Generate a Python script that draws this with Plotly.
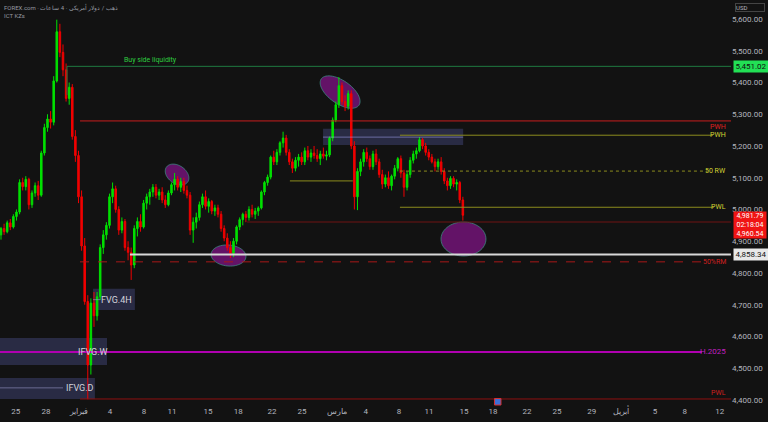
''' Gold 4H chart with ICT levels (dark theme) '''
import numpy as np
import plotly.graph_objects as go

# candle data (bar index on x, price in USD)
opens = [4920, 4940, 4930, 4958, 4945, 4978, 4992, 5085, 5072, 5095,
         5015, 5052, 5075, 5045, 5178, 5258, 5285, 5275, 5405, 5560,
         5495, 5440, 5350, 5385, 5230, 5170, 5040, 4885, 4710, 4510,
         4705, 4665, 4725, 4880, 4920, 4950, 5040, 5065, 5000, 4935,
         4962, 4880, 4865, 4825, 4940, 4962, 4945, 5020, 5040, 5055,
         5070, 5045, 5055, 5030, 5015, 5052, 5078, 5095, 5070, 5088,
         5060, 5045, 4935, 4960, 4975, 5015, 5040, 5010, 5025, 4995,
         5005, 4985, 4940, 4910, 4880, 4862, 4900, 4945, 4968, 4985,
         4975, 5000, 4985, 4995, 5005, 5055, 5085, 5102, 5165, 5150,
         5180, 5210, 5225, 5180, 5150, 5130, 5155, 5165, 5150, 5185,
         5165, 5178, 5170, 5160, 5175, 5168, 5172, 5225, 5282, 5330,
         5390, 5340, 5325, 5365, 5200, 5040, 5120, 5150, 5180, 5160,
         5135, 5175, 5150, 5110, 5080, 5100, 5075, 5105, 5130, 5160,
         5115, 5070, 5110, 5155, 5175, 5185, 5220, 5200, 5180, 5165,
         5150, 5135, 5150, 5120, 5090, 5075, 5098, 5080, 5085, 5030]
highs = [4945, 4955, 4965, 4970, 4985, 5000, 5095, 5100, 5105, 5100,
         5060, 5085, 5090, 5185, 5270, 5300, 5310, 5420, 5598, 5585,
         5520, 5460, 5400, 5395, 5250, 5185, 5060, 4910, 4730, 4720,
         4740, 4740, 4890, 4935, 4960, 5050, 5085, 5075, 5010, 4975,
         4970, 4900, 4880, 4950, 4975, 4985, 5030, 5050, 5065, 5080,
         5080, 5065, 5070, 5045, 5060, 5085, 5115, 5105, 5100, 5100,
         5075, 5055, 4975, 4990, 5025, 5050, 5060, 5035, 5030, 5015,
         5015, 4995, 4950, 4925, 4900, 4910, 4950, 4975, 4990, 4995,
         5010, 5015, 5005, 5010, 5060, 5090, 5110, 5170, 5185, 5190,
         5215, 5245, 5235, 5190, 5160, 5165, 5175, 5180, 5195, 5200,
         5190, 5200, 5190, 5185, 5195, 5185, 5230, 5290, 5340, 5417,
         5400, 5360, 5375, 5375, 5215, 5130, 5160, 5190, 5195, 5170,
         5185, 5190, 5160, 5125, 5110, 5120, 5110, 5140, 5165, 5170,
         5125, 5120, 5165, 5185, 5195, 5228, 5225, 5210, 5190, 5175,
         5160, 5160, 5165, 5130, 5100, 5105, 5105, 5095, 5090, 5040]
lows = [4905, 4920, 4925, 4935, 4940, 4965, 4985, 5060, 5060, 5000,
        5005, 5040, 5030, 5040, 5170, 5245, 5255, 5265, 5400, 5480,
        5420, 5340, 5330, 5220, 5150, 5020, 4870, 4700, 4402, 4480,
        4630, 4650, 4715, 4860, 4905, 4940, 5020, 4990, 4920, 4925,
        4870, 4840, 4778, 4815, 4915, 4930, 4940, 5000, 5015, 5040,
        5035, 5030, 5020, 5005, 5010, 5045, 5060, 5060, 5055, 5050,
        5035, 4920, 4895, 4940, 4965, 5005, 5000, 4990, 4985, 4980,
        4975, 4930, 4900, 4870, 4847, 4850, 4890, 4935, 4950, 4960,
        4965, 4975, 4970, 4980, 5000, 5045, 5075, 5095, 5140, 5140,
        5170, 5195, 5170, 5140, 5115, 5120, 5135, 5140, 5140, 5155,
        5150, 5160, 5150, 5140, 5160, 5155, 5165, 5215, 5275, 5320,
        5330, 5310, 5315, 5190, 5000, 4998, 5105, 5135, 5150, 5125,
        5125, 5140, 5100, 5065, 5070, 5065, 5060, 5095, 5120, 5100,
        5040, 5060, 5100, 5145, 5160, 5180, 5190, 5170, 5155, 5145,
        5120, 5125, 5110, 5080, 5060, 5065, 5070, 5060, 5020, 4965]
closes = [4940, 4930, 4958, 4945, 4978, 4992, 5085, 5072, 5095, 5015,
          5052, 5075, 5045, 5178, 5258, 5285, 5275, 5405, 5560, 5495,
          5440, 5350, 5385, 5230, 5170, 5040, 4885, 4710, 4510, 4705,
          4665, 4725, 4880, 4920, 4950, 5040, 5065, 5000, 4935, 4962,
          4880, 4865, 4825, 4940, 4962, 4945, 5020, 5040, 5055, 5070,
          5045, 5055, 5030, 5015, 5052, 5078, 5095, 5070, 5088, 5060,
          5045, 4935, 4960, 4975, 5015, 5040, 5010, 5025, 4995, 5005,
          4985, 4940, 4910, 4880, 4862, 4900, 4945, 4968, 4985, 4975,
          5000, 4985, 4995, 5005, 5055, 5085, 5102, 5165, 5150, 5180,
          5210, 5225, 5180, 5150, 5130, 5155, 5165, 5150, 5185, 5165,
          5178, 5170, 5160, 5175, 5168, 5172, 5225, 5282, 5330, 5390,
          5340, 5325, 5365, 5200, 5040, 5120, 5150, 5180, 5160, 5135,
          5175, 5150, 5110, 5080, 5100, 5075, 5105, 5130, 5160, 5115,
          5070, 5110, 5155, 5175, 5185, 5220, 5200, 5180, 5165, 5150,
          5135, 5150, 5120, 5090, 5075, 5098, 5080, 5085, 5030, 4981.79]
bars = list(range(len(closes)))

# x axis labels (bar position, text)
tick_pos = [4.8, 14.5, 25.2, 35.2, 46.1, 55.2, 66.8, 76.5, 87.4, 97.1, 108.4, 117.7,
            128.4, 138.1, 149.4, 158.7, 169.7, 179.4, 190.6, 200.0, 211.0, 220.6, 231.9]
tick_text = ['25', '28', 'فبراير', '4', '8', '11', '15', '18', '22', '25', 'مارس', '4',
             '8', '11', '15', '18', '22', '25', '29', 'أبريل', '5', '8', '12']
price_ticks = [4400, 4500, 4600, 4700, 4800, 4900, 5000, 5100, 5200, 5300, 5400, 5500, 5600]

# key levels
buy_side = 5451.02
pwh_red = 5279
pwh = 5234
rw50 = 5121
pwl = 5007
short_olive = 5090
bid_line = 4960.54
level_white = 4858.34
rm50 = 4835
h2025 = 4551
pwl_low = 4403
last_price = closes[-1]

BG = '#121212'
UP = '#00e000'
DN = '#f00000'
AXIS_TXT = '#b2b5be'
OLIVE = '#8c8c1e'
YEL = '#d2d232'
FONT = 'Roboto'

X0, X1 = -0.32, 235.5
Y0, Y1 = 4384, 5660
PX_X = 731 / (X1 - X0)
PX_Y = 405 / (Y1 - Y0)

fig = go.Figure()

fig.add_trace(
    go.Candlestick(
        x = bars,
        open = opens,
        high = highs,
        low = lows,
        close = closes,
        increasing = dict(line=dict(color=UP, width=1), fillcolor=UP),
        decreasing = dict(line=dict(color=DN, width=1), fillcolor=DN),
        whiskerwidth = 0,
        showlegend = False,
        hoverinfo = 'skip'
    )
)

shapes = []

def hline(y, x0, x1, color, width=1, dash='solid'):
    shapes.append(dict(type='line', xref='x', yref='y', x0=x0, x1=x1, y0=y, y1=y,
                       line=dict(color=color, width=width, dash=dash)))

def box(x0, x1, y0, y1, color):
    shapes.append(dict(type='rect', xref='x', yref='y', x0=x0, x1=x1, y0=y0, y1=y1,
                       fillcolor=color, line=dict(width=0), layer='below'))

def ellipse(cx, cy, a, b, ang):
    t = np.linspace(0, 2 * np.pi, 64)
    th = np.radians(ang)
    dx = a * np.cos(t) * np.cos(th) - b * np.sin(t) * np.sin(th)
    dy = a * np.cos(t) * np.sin(th) + b * np.sin(t) * np.cos(th)
    xs = cx + dx / PX_X
    ys = cy - dy / PX_Y
    path = 'M ' + ' L '.join(f'{x:.3f},{y:.2f}' for x, y in zip(xs, ys)) + ' Z'
    shapes.append(dict(type='path', xref='x', yref='y', path=path,
                       fillcolor='rgba(120,20,125,0.8)',
                       line=dict(color='rgba(60,140,130,0.75)', width=1), layer='below'))

# zones
box(103.9, 149.1, 5203, 5254, 'rgba(80,85,150,0.38)')
box(29.7, 43.2, 4683, 4750, 'rgba(80,85,150,0.38)')
box(X0, 34.2, 4510, 4595, 'rgba(80,85,150,0.38)')
box(X0, 30.3, 4403, 4469, 'rgba(80,85,150,0.38)')

# marked areas
ellipse(109.4, 5370, 23, 11.5, 35)
ellipse(56.8, 5110, 13, 9, 35)
ellipse(73.4, 4855, 17.5, 10.5, 5)
ellipse(149.2, 4907, 22.5, 17, 0)

# levels
hline(buy_side, 21.3, X1, '#1f7a40')
shapes.append(dict(type='line', xref='x', yref='y', x0=21.3, x1=21.3, y0=buy_side, y1=5360,
                   line=dict(color='#1f7a40', width=1)))
hline(pwh_red, 25.5, X1, '#c81e1e')
hline(pwh, 128.7, 229.7, OLIVE)
hline(rw50, 128.7, 228.0, OLIVE, dash='dot')
hline(pwl, 128.7, 230.0, OLIVE)
hline(short_olive, 93.2, 113.5, OLIVE)
hline(5228, 103.9, 149.1, 'rgba(150,150,225,0.6)')
hline(bid_line, 79.4, X1, '#6e1212')
hline(level_white, 41.6, X1, '#d8d8d8', width=2)
hline(rm50, 25.5, 226.5, '#a81818', dash='dash')
hline(h2025, X0, 226.1, '#b000b0', width=2)
hline(pwl_low, 25.5, X1, '#8e1010')
hline(4438, X0, 20.0, 'rgba(150,150,200,0.6)')
hline(4716, 29.7, 32.0, 'rgba(150,150,200,0.6)')

# economic event marker on the time scale
shapes.append(dict(type='rect', xref='x', yref='paper', x0=159.2, x1=161.3, y0=0.0, y1=0.016,
                   fillcolor='#3d6fd6', line=dict(color='#d83030', width=1)))

annotations = []

def label(text, x, y, color, size=7, xanchor='right', yanchor='middle', **kw):
    annotations.append(dict(text=text, x=x, y=y, xref='x', yref='y', showarrow=False,
                            xanchor=xanchor, yanchor=yanchor,
                            font=dict(color=color, size=size, family=FONT), **kw))

label('Buy side liquidity', 48.1, buy_side, '#2ecc40', xanchor='center', yanchor='bottom')
label('PWH', 234.6, pwh_red, '#e02020', yanchor='top')
label('PWH', 234.6, pwh, YEL)
label('50 RW', 234.6, rw50, YEL)
label('PWL', 234.6, pwl, YEL)
label('50%RM', 234.6, rm50, '#d02020')
label('H.2025', 234.6, h2025, '#c020c0', size=8)
label('PWL', 234.6, pwl_low, '#d02020', yanchor='bottom')
label('FVG.4H', 37.4, 4716, '#d4d4dc', size=9, xanchor='center')
label('IFVG.W', 29.7, h2025, '#d4d4dc', size=9, xanchor='center')
label('IFVG.D', 25.5, 4438, '#d4d4dc', size=9, xanchor='center')

def axis_tag(text, y, bg, fg, yanchor='middle', size=8, yshift=0, pad=1):
    annotations.append(dict(text=text, x=1, y=y, xref='paper', yref='y', showarrow=False,
                            xanchor='left', yanchor=yanchor, xshift=2, yshift=yshift,
                            align='center', bgcolor=bg, borderpad=pad, width=32,
                            font=dict(color=fg, size=size, family=FONT)))

axis_tag('5,451.02', buy_side, '#22e055', '#101010')
axis_tag(f'{last_price:,.2f}<br>02:18:04<br>{bid_line:,.2f}', last_price, '#f01414', '#ffffff',
         yanchor='top', size=7, yshift=4, pad=0)
axis_tag('4,858.34', level_white, '#e8e8e8', '#131313')

annotations.append(dict(text='USD', x=1, y=1, xref='paper', yref='paper', showarrow=False,
                        xanchor='left', yanchor='top', xshift=4, yshift=-3, width=28,
                        bordercolor='#444444', borderwidth=1, borderpad=0, align='left',
                        font=dict(color=AXIS_TXT, size=6, family=FONT)))
annotations.append(dict(text='FOREX.com · ذهب / دولار أمريكي · 4 ساعات<br>ICT KZs',
                        x=0, y=1, xref='paper', yref='paper', showarrow=False,
                        xanchor='left', yanchor='top', xshift=2, yshift=-1, align='left',
                        font=dict(color='#9598a1', size=6, family=FONT)))

fig.update_layout(
    width = 768,
    height = 422,
    paper_bgcolor = BG,
    plot_bgcolor = BG,
    margin = dict(l=0, r=37, t=0, b=17),
    showlegend = False,
    shapes = shapes,
    annotations = annotations,
    xaxis = dict(
        range = [X0, X1],
        rangeslider = dict(visible=False),
        showgrid = False,
        zeroline = False,
        showline = False,
        tickvals = tick_pos,
        ticktext = tick_text,
        tickfont = dict(color=AXIS_TXT, size=8, family=FONT),
        ticks = ''
    ),
    yaxis = dict(
        range = [Y0, Y1],
        side = 'right',
        showgrid = False,
        zeroline = False,
        showline = False,
        tickvals = price_ticks,
        tickformat = ',.2f',
        tickfont = dict(color=AXIS_TXT, size=8, family=FONT),
        ticks = ''
    )
)

# page body has a default margin; drop it so the chart fills the window
fig.write_html('out.html',
               config = {'displayModeBar': False},
               post_script = "document.body.style.margin='0';"
                             "document.body.style.overflow='hidden';"
                             f"document.body.style.background='{BG}';")
